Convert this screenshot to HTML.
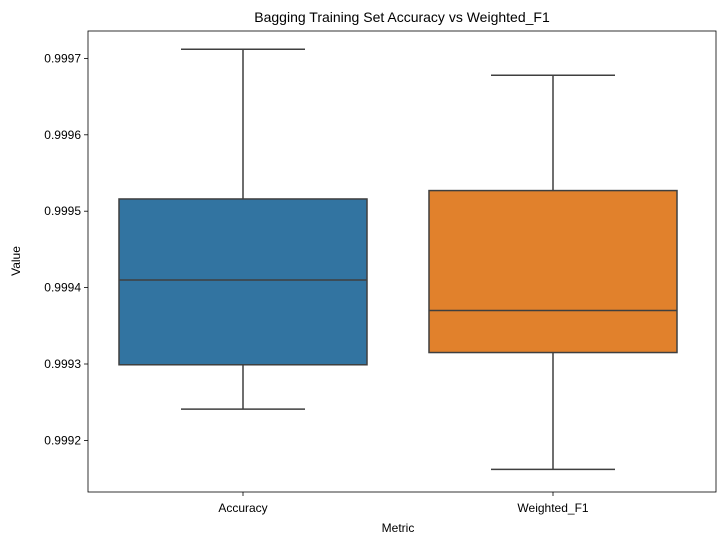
<!DOCTYPE html>
<html><head><meta charset="utf-8"><style>
body{margin:0;background:#fff;}
svg text{font-family:"Liberation Sans",sans-serif;fill:#000;}
</style></head><body>
<svg width="718" height="545" viewBox="0 0 718 545" xmlns="http://www.w3.org/2000/svg">
<text x="402" y="22" font-size="14" text-anchor="middle">Bagging Training Set Accuracy vs Weighted_F1</text>
<g id="plot"></g>
<rect x="88" y="31" width="628" height="461" fill="none" stroke="#000" stroke-width="0.8"/>
<text x="398" y="532" font-size="12" text-anchor="middle">Metric</text>
<text x="20" y="261" font-size="12" text-anchor="middle" transform="rotate(-90 20 261)">Value</text>
</svg>
<script>
const categories = ["Accuracy", "Weighted_F1"];
const whiskerHigh = [0.999712, 0.999678];
const q3Values = [0.999516, 0.999527];
const medianValues = [0.999410, 0.999370];
const q1Values = [0.999299, 0.999315];
const whiskerLow = [0.999241, 0.999162];
const yTicks = [0.9992, 0.9993, 0.9994, 0.9995, 0.9996, 0.9997];
const colors = ["#3274a1", "#e1812c"];

const L=88,R=716,T=31,B=492;
function y(v){return 364 - (v-0.9993)/0.0001*76.4;}
const band=310;
function xc(i){return L+band*(i+0.5);}
const g=document.getElementById('plot');
const NS="http://www.w3.org/2000/svg";
function mk(tag,attrs){const e=document.createElementNS(NS,tag);for(const k in attrs)e.setAttribute(k,attrs[k]);g.appendChild(e);return e;}
yTicks.forEach(t=>{
  const tk=mk('line',{x1:L-4,x2:L,y1:y(t),y2:y(t),stroke:'#000','stroke-width':0.8});
  
  
  const lb=mk('text',{x:L-7,y:y(t)+4,'font-size':12,'text-anchor':'end'});
  lb.textContent=t.toFixed(4);
  
  
});
categories.forEach((c,i)=>{
  const cx=xc(i), w=band*0.8, cw=w/2, st='#3f3f3f';
  const wh=mk('line',{x1:cx,x2:cx,y1:y(whiskerHigh[i]),y2:y(q3Values[i]),stroke:st,'stroke-width':1.5});
  
  
  const wl=mk('line',{x1:cx,x2:cx,y1:y(q1Values[i]),y2:y(whiskerLow[i]),stroke:st,'stroke-width':1.5});
  
  
  const ch=mk('line',{x1:cx-cw/2,x2:cx+cw/2,y1:y(whiskerHigh[i]),y2:y(whiskerHigh[i]),stroke:st,'stroke-width':1.5});
  
  
  const cl=mk('line',{x1:cx-cw/2,x2:cx+cw/2,y1:y(whiskerLow[i]),y2:y(whiskerLow[i]),stroke:st,'stroke-width':1.5});
  
  
  const bx=mk('rect',{x:cx-w/2,y:y(q3Values[i]),width:w,height:y(q1Values[i])-y(q3Values[i]),fill:colors[i],stroke:st,'stroke-width':1.5});
  
  
  const md=mk('line',{x1:cx-w/2,x2:cx+w/2,y1:y(medianValues[i]),y2:y(medianValues[i]),stroke:st,'stroke-width':1.5});
  
  
  const tk=mk('line',{x1:cx,x2:cx,y1:B,y2:B+4,stroke:'#000','stroke-width':0.8});
  
  
  const lb=mk('text',{x:cx,y:B+20,'font-size':12,'text-anchor':'middle'});
  lb.textContent=c;
  
  
});
</script>
</body></html>
